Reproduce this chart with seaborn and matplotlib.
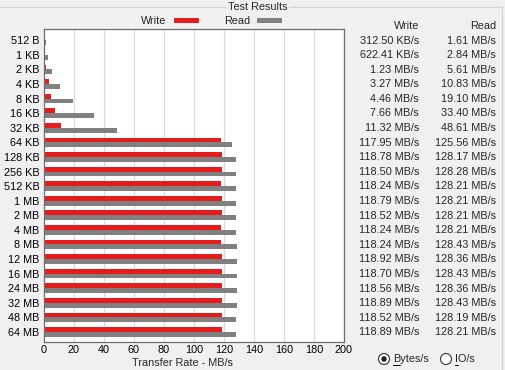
import matplotlib
matplotlib.use("Agg")
import matplotlib.pyplot as plt
import seaborn as sns
import pandas as pd
from matplotlib.patches import Ellipse, Rectangle
from matplotlib.lines import Line2D

sizes = ["512 B", "1 KB", "2 KB", "4 KB", "8 KB", "16 KB", "32 KB", "64 KB",
         "128 KB", "256 KB", "512 KB", "1 MB", "2 MB", "4 MB", "8 MB", "12 MB",
         "16 MB", "24 MB", "32 MB", "48 MB", "64 MB"]
write_mbs = [0.3125, 0.62241, 1.23, 3.27, 4.46, 7.66, 11.32, 117.95,
             118.78, 118.50, 118.24, 118.79, 118.52, 118.24, 118.24, 118.92,
             118.70, 118.56, 118.89, 118.52, 118.89]
read_mbs = [1.61, 2.84, 5.61, 10.83, 19.10, 33.40, 48.61, 125.56,
            128.17, 128.28, 128.21, 128.21, 128.21, 128.21, 128.43, 128.36,
            128.43, 128.36, 128.43, 128.19, 128.21]
x_ticks = [0, 20, 40, 60, 80, 100, 120, 140, 160, 180, 200]

FONT = "Liberation Sans"
FS = 7.8
W, H = 505, 370

sns.set_style("white")
plt.rcParams["font.family"] = [FONT, "DejaVu Sans"]
plt.rcParams["font.size"] = FS

def fmt(v):
    if v < 1:
        return f"{v*1000:.2f} KB/s"
    return f"{v:.2f} MB/s"

df = pd.DataFrame({
    "size": sizes * 2,
    "kind": ["Write"] * len(sizes) + ["Read"] * len(sizes),
    "rate": write_mbs + read_mbs,
})

fig = plt.figure(figsize=(W / 100, H / 100), dpi=100, facecolor="#F0F0F0")
ax = fig.add_axes([44 / W, 1 - 342 / H, 300 / W, (342 - 29) / H])
ax.set_facecolor("white")

sns.barplot(data=df, y="size", x="rate", hue="kind", order=sizes,
            hue_order=["Write", "Read"], orient="h",
            palette={"Write": "#E51C1C", "Read": "#808080"},
            saturation=1, width=0.66, gap=0, linewidth=0, legend=False, ax=ax,
            errorbar=None)

ax.set_xlim(0, 200)
ax.set_ylim(20.685, -0.768)
ax.set_xticks(x_ticks)
ax.set_xticklabels([str(t) for t in x_ticks])
ax.grid(axis="x", color="#DADADA", linewidth=0.9)
ax.set_axisbelow(True)
ax.set_xlabel("")
ax.set_ylabel("")
ax.tick_params(axis="both", length=0, labelsize=FS, colors="black")
ax.tick_params(axis="y", pad=3.2)
ax.tick_params(axis="x", pad=2.5)
for sp in ax.spines.values():
    sp.set_color("#6E6E6E")
    sp.set_linewidth(0.9)

def px(x, y):
    return x / W, 1 - y / H

# group box line and title
fig.add_artist(Line2D([0, 225 / W], [1 - 6.5 / H] * 2, color="#D5D5D5", lw=0.9))
fig.add_artist(Line2D([289 / W, 502 / W], [1 - 6.5 / H] * 2, color="#D5D5D5", lw=0.9))
fig.add_artist(Line2D([502 / W, 502 / W], [1 - 6.5 / H, 0], color="#D5D5D5", lw=0.9))
fig.text(*px(258, 7.5), "Test Results", ha="center", va="center", fontsize=FS)

# legend
fig.text(*px(166, 20.5), "Write", ha="right", va="center", fontsize=FS)
fig.add_artist(Rectangle(px(174, 23), 25 / W, 4.7 / H, color="#E51C1C", lw=0))
fig.text(*px(250, 20.5), "Read", ha="right", va="center", fontsize=FS)
fig.add_artist(Rectangle(px(257, 23), 25 / W, 4.7 / H, color="#808080", lw=0))

# x label
fig.text(*px(182, 363), "Transfer Rate - MB/s", ha="center", va="center", fontsize=FS)

# value columns
fig.text(*px(419, 26), "Write", ha="right", va="center", fontsize=FS)
fig.text(*px(496, 26), "Read", ha="right", va="center", fontsize=FS)
for i, (w, r) in enumerate(zip(write_mbs, read_mbs)):
    y = 40.5 + 14.59 * i
    fig.text(*px(419, y), fmt(w), ha="right", va="center", fontsize=FS)
    fig.text(*px(496, y), fmt(r), ha="right", va="center", fontsize=FS)

# radio buttons
def radio(x, y, selected):
    fig.add_artist(Ellipse(px(x, y), 11 / W, 11 / H, transform=fig.transFigure,
                           facecolor="white", edgecolor="#333333", lw=0.8))
    if selected:
        fig.add_artist(Ellipse(px(x, y), 5.5 / W, 5.5 / H, transform=fig.transFigure,
                               facecolor="#222222", edgecolor="none"))

radio(384, 359, True)
fig.text(*px(393, 359.5), "Bytes/s", ha="left", va="center", fontsize=FS)
fig.add_artist(Line2D([393 / W, 400 / W], [1 - 364.5 / H] * 2, color="black", lw=0.7))
radio(446, 359, False)
fig.text(*px(455, 359.5), "IO/s", ha="left", va="center", fontsize=FS)
fig.add_artist(Line2D([455 / W, 458 / W], [1 - 364.5 / H] * 2, color="black", lw=0.7))

fig.savefig("out.png", dpi=100, facecolor=fig.get_facecolor())
